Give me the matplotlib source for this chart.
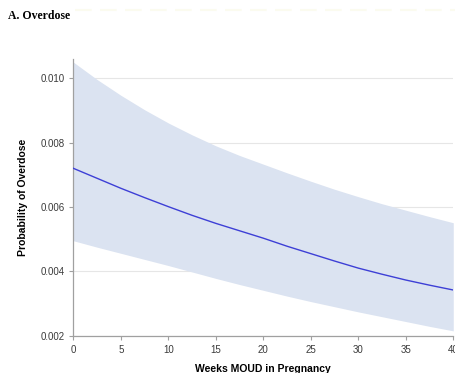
import matplotlib
matplotlib.use('Agg')
import matplotlib.pyplot as plt

# values
weeks = [0, 2.5, 5, 7.5, 10, 12.5, 15, 17.5, 20, 22.5, 25, 27.5, 30, 32.5, 35, 37.5, 40]
prob_mean = [0.00720, 0.00689, 0.00658, 0.00629, 0.00601, 0.00574, 0.00549, 0.00526, 0.00503,
             0.00478, 0.00455, 0.00432, 0.00410, 0.00391, 0.00373, 0.00357, 0.00342]
prob_upper = [0.01050, 0.00996, 0.00947, 0.00902, 0.00861, 0.00824, 0.00790, 0.00760, 0.00733,
              0.00706, 0.00680, 0.00655, 0.00632, 0.00610, 0.00590, 0.00570, 0.00551]
prob_lower = [0.00495, 0.00475, 0.00456, 0.00437, 0.00418, 0.00398, 0.00378, 0.00359, 0.00341,
              0.00323, 0.00306, 0.00290, 0.00274, 0.00259, 0.00244, 0.00229, 0.00215]
x_ticks = [0, 5, 10, 15, 20, 25, 30, 35, 40]
y_ticks = [0.002, 0.004, 0.006, 0.008, 0.010]

plt.rcParams['font.family'] = ['Liberation Sans', 'DejaVu Sans']

fig = plt.figure(figsize=(4.56, 3.73), dpi=100)
ax = fig.add_axes([0.161, 0.100, 0.833, 0.742])

ax.fill_between(weeks, prob_lower, prob_upper, color='#dbe3f1', linewidth=0, zorder=1)
ax.plot(weeks, prob_mean, color='#3d3fd6', linewidth=1.0, zorder=3)

ax.set_xlim(0, 40)
ax.set_ylim(0.002, 0.0106)
ax.set_xticks(x_ticks)
ax.set_yticks(y_ticks)
ax.set_yticklabels(['%.3f' % v for v in y_ticks])
ax.yaxis.grid(True, color='#e6e6e6', linewidth=0.8, zorder=0)
ax.set_axisbelow(True)

for side in ['top', 'right']:
    ax.spines[side].set_visible(False)
for side in ['left', 'bottom']:
    ax.spines[side].set_color('#a0a0a0')
    ax.spines[side].set_linewidth(0.9)

ax.tick_params(axis='both', colors='#a0a0a0', labelcolor='#3a3a3a', labelsize=7,
               length=3, width=0.8, direction='out')

ax.set_xlabel('Weeks MOUD in Pregnancy', fontsize=7.5, fontweight='bold', labelpad=7)
ax.set_ylabel('Probability of Overdose', fontsize=7.5, fontweight='bold', labelpad=9)

fig.text(0.018, 0.958, 'A. Overdose', fontsize=8.5, fontweight='bold',
         family=['Liberation Serif', 'DejaVu Serif'], va='center', ha='left')

# faint scan line along the top edge
fig.add_artist(plt.Line2D([0.165, 1.0], [0.973, 0.973], color='#fbfbef',
                          linewidth=1.5, linestyle=(0, (8, 4))))

fig.savefig('out.png', dpi=100, facecolor='white')
